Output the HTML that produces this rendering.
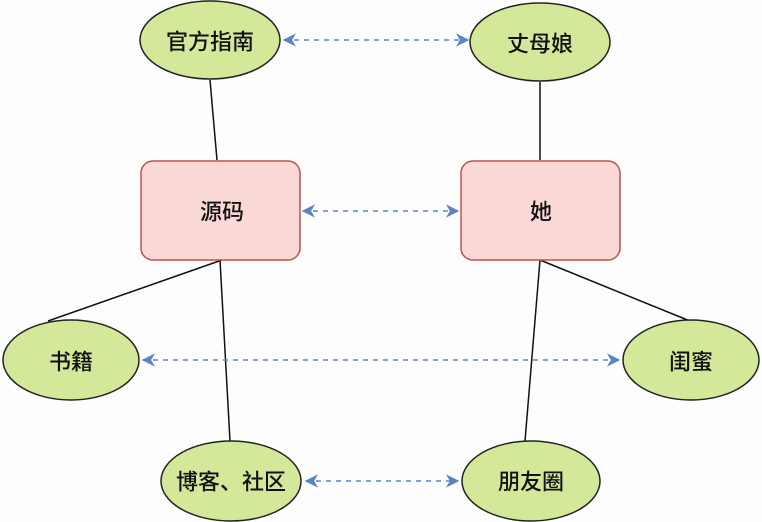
<!DOCTYPE html>
<html><head><meta charset="utf-8"><style>
body{margin:0;background:#fdfdfd;}
svg{display:block}
text{font-family:"Liberation Sans","Noto Sans CJK SC",sans-serif;font-size:22px;font-weight:500;fill:#111;text-anchor:middle;dominant-baseline:central}
</style></head><body>
<svg width="762" height="522" viewBox="0 0 762 522">
<defs>
<marker id="a" viewBox="0 0 10 10" refX="9" refY="5" markerWidth="9" markerHeight="9" orient="auto-start-reverse"><path d="M0,0 L10,5 L0,10 L3,5 z" fill="#5b84c8"/></marker>
</defs>
<g stroke="#111" stroke-width="1.5">
<line x1="210" y1="80" x2="217" y2="160"/>
<line x1="540" y1="82" x2="540" y2="160"/>
<line x1="222" y1="260" x2="48" y2="321"/>
<line x1="220" y1="260" x2="230" y2="441"/>
<line x1="540" y1="260" x2="525" y2="441"/>
<line x1="540" y1="260" x2="690" y2="321"/>
</g>
<g stroke="#5b84c8" stroke-width="1.5" stroke-dasharray="5,5" fill="none">
<line x1="284" y1="40" x2="468" y2="40" marker-start="url(#a)" marker-end="url(#a)"/>
<line x1="303" y1="211" x2="458" y2="211" marker-start="url(#a)" marker-end="url(#a)"/>
<line x1="143" y1="360" x2="619" y2="360" marker-start="url(#a)" marker-end="url(#a)"/>
<line x1="306" y1="481" x2="458" y2="481" marker-start="url(#a)" marker-end="url(#a)"/>
</g>
<g fill="#d4e89a" stroke="#222" stroke-width="1.5">
<ellipse cx="210" cy="40" rx="70" ry="39"/>
<ellipse cx="540" cy="42" rx="70" ry="39"/>
<ellipse cx="71" cy="360" rx="68" ry="40"/>
<ellipse cx="691" cy="360" rx="68" ry="40"/>
<ellipse cx="231" cy="481" rx="70" ry="40"/>
<ellipse cx="531" cy="481" rx="69" ry="40"/>
</g>
<g fill="#f9d8d6" stroke="#b85450" stroke-width="1.5">
<rect x="141" y="161" width="159" height="99" rx="12"/>
<rect x="461" y="161" width="159" height="99" rx="12"/>
</g>
<text x="210" y="42">官方指南</text>
<text x="540" y="44">丈母娘</text>
<text x="222" y="212">源码</text>
<text x="541" y="212">她</text>
<text x="71" y="362">书籍</text>
<text x="691" y="362">闺蜜</text>
<text x="231" y="482">博客、社区</text>
<text x="531" y="482">朋友圈</text>
</svg>
</body></html>
